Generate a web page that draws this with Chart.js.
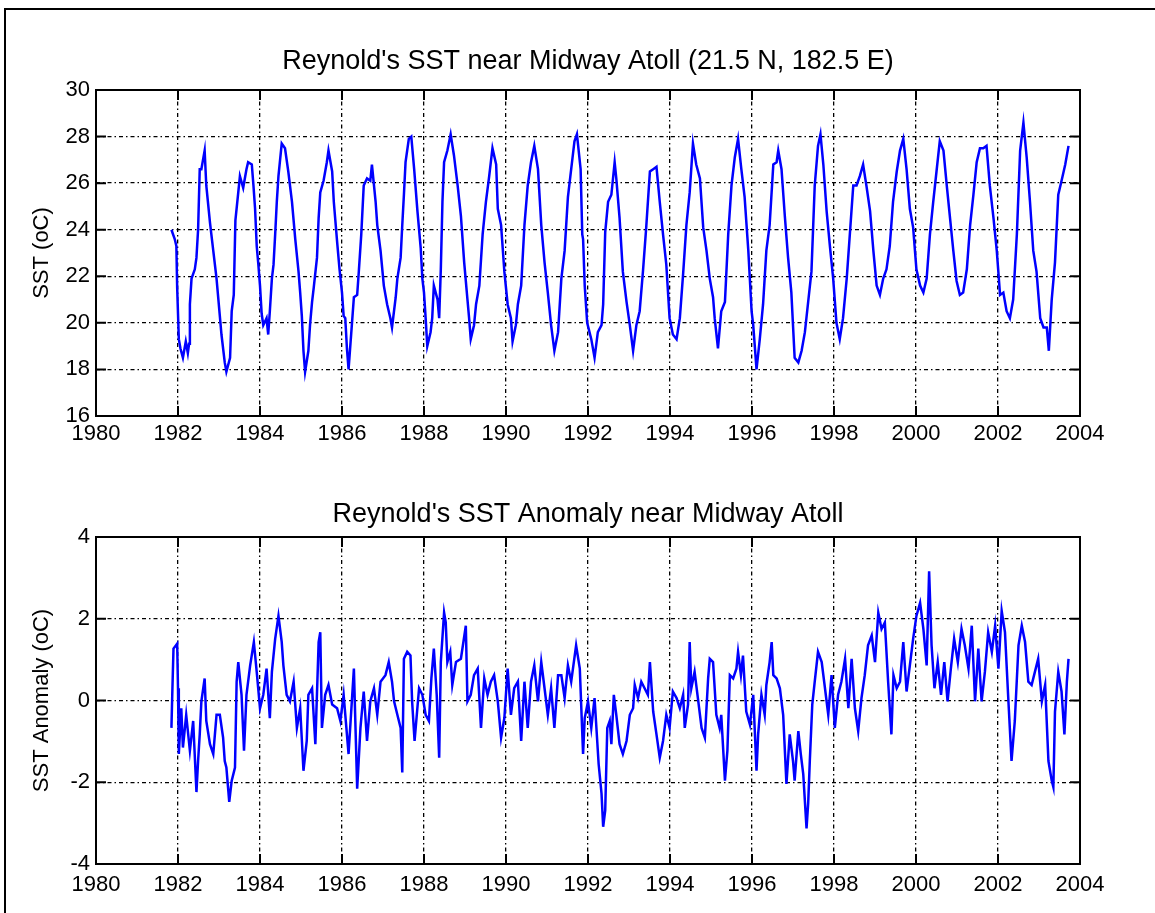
<!DOCTYPE html>
<html><head><meta charset="utf-8">
<script src="https://cdn.jsdelivr.net/npm/chart.js@4.4.1/dist/chart.umd.min.js"></script>
<style>
html,body{margin:0;padding:0;background:#fff;}
body{width:1155px;height:913px;position:relative;overflow:hidden;}
#frame{position:absolute;left:4px;top:8px;width:1170px;height:930px;border-left:2px solid #000;border-top:2px solid #000;}
#c1{position:absolute;left:0;top:0;}
#c2{position:absolute;left:0;top:460px;}
</style></head>
<body>
<div id="frame"></div>
<canvas id="c1" width="1155" height="460"></canvas>
<canvas id="c2" width="1155" height="453"></canvas>
<script>
// ---- Weekly Reynolds SST near Midway Atoll ----
const sstTime = [
1981.84,1981.92,1981.96,1981.98,
1982.02,1982.06,1982.12,1982.19,1982.24,1982.27,1982.29,1982.33,1982.41,1982.45,1982.49,1982.53,1982.57,1982.65,1982.69,1982.78,1982.86,1982.94,
1983.02,1983.06,1983.14,1983.18,1983.27,1983.31,1983.36,1983.40,1983.47,1983.51,1983.59,1983.67,1983.71,1983.80,1983.84,1983.88,1983.92,1983.96,
1984.00,1984.04,1984.08,1984.16,1984.20,1984.24,1984.29,1984.33,1984.37,1984.41,1984.45,1984.53,1984.61,1984.69,1984.78,1984.86,1984.94,1984.98,
1985.02,1985.06,1985.10,1985.18,1985.22,1985.27,1985.31,1985.39,1985.43,1985.47,1985.55,1985.63,1985.67,1985.76,1985.80,1985.88,1985.94,
1986.00,1986.04,1986.08,1986.12,1986.16,1986.24,1986.29,1986.37,1986.41,1986.47,1986.53,1986.61,1986.69,1986.73,1986.78,1986.82,1986.86,1986.94,
1987.02,1987.10,1987.18,1987.22,1987.31,1987.35,1987.43,1987.47,1987.51,1987.55,1987.63,1987.69,1987.76,1987.84,1987.92,1987.96,
1988.00,1988.04,1988.08,1988.16,1988.20,1988.24,1988.33,1988.37,1988.41,1988.45,1988.49,1988.57,1988.65,1988.73,1988.82,1988.90,1988.98,
1989.06,1989.10,1989.14,1989.22,1989.27,1989.35,1989.43,1989.51,1989.59,1989.67,1989.76,1989.80,1989.88,1989.96,
1990.04,1990.12,1990.16,1990.24,1990.29,1990.37,1990.45,1990.53,1990.61,1990.69,1990.78,1990.86,1990.94,
1991.02,1991.10,1991.18,1991.27,1991.35,1991.43,1991.51,1991.59,1991.67,1991.73,1991.82,1991.86,1991.88,1991.92,1991.98,
1992.08,1992.16,1992.24,1992.33,1992.37,1992.42,1992.49,1992.57,1992.65,1992.69,1992.77,1992.85,1992.94,
1993.02,1993.10,1993.18,1993.26,1993.34,1993.42,1993.51,1993.59,1993.67,1993.75,1993.83,1993.91,1993.99,
1994.07,1994.16,1994.24,1994.32,1994.40,1994.48,1994.56,1994.64,1994.73,1994.81,1994.89,1994.97,
1995.05,1995.09,1995.17,1995.25,1995.34,1995.42,1995.50,1995.58,1995.66,1995.74,1995.82,1995.91,1995.99,
1996.03,1996.11,1996.19,1996.27,1996.35,1996.43,1996.52,1996.60,1996.64,1996.72,1996.80,1996.88,1996.96,
1997.04,1997.13,1997.21,1997.29,1997.37,1997.45,1997.53,1997.61,1997.67,1997.74,1997.82,1997.90,1997.98,
1998.06,1998.14,1998.22,1998.31,1998.39,1998.47,1998.55,1998.63,1998.71,1998.79,1998.88,1998.96,
1999.04,1999.12,1999.20,1999.28,1999.36,1999.44,1999.53,1999.61,1999.69,1999.77,1999.85,1999.93,
2000.01,2000.10,2000.18,2000.26,2000.34,2000.42,2000.50,2000.58,2000.67,2000.75,2000.83,2000.91,2000.99,
2001.07,2001.15,2001.24,2001.32,2001.40,2001.48,2001.56,2001.64,2001.72,2001.80,2001.89,2001.97,
2002.05,2002.13,2002.21,2002.29,2002.37,2002.46,2002.54,2002.62,2002.70,2002.78,2002.86,2002.94,
2003.03,2003.11,2003.19,2003.24,2003.31,2003.39,2003.47,2003.55,2003.64,2003.72
];
const sstValue = [
24.0,23.6,23.3,21.5,
19.3,18.9,18.5,19.2,18.7,19.1,20.8,21.9,22.3,22.8,24.0,26.6,26.6,27.4,25.9,24.3,23.1,21.9,
20.3,19.5,18.3,17.9,18.5,20.5,21.2,24.4,25.6,26.3,25.8,26.6,26.9,26.8,25.9,24.9,23.3,22.5,
21.6,20.4,19.9,20.2,19.5,20.5,21.9,22.5,23.8,25.2,26.3,27.7,27.5,26.5,25.2,23.6,22.2,21.3,
20.3,18.8,17.9,18.8,19.9,20.9,21.5,22.8,24.5,25.6,26.1,26.9,27.4,26.5,25.2,23.5,22.3,
21.3,20.3,20.2,18.9,18.0,19.9,21.1,21.2,22.2,23.8,25.9,26.2,26.1,26.8,25.9,25.2,24.2,23.1,
21.6,20.8,20.2,19.8,21.1,21.9,22.8,24.2,25.5,26.9,27.9,28.0,26.6,24.8,23.2,21.9,
21.3,20.2,19.0,19.6,20.2,21.6,21.0,20.2,22.3,25.2,26.9,27.4,28.1,27.2,25.9,24.6,22.6,
21.0,20.2,19.3,19.9,20.8,21.6,23.8,25.2,26.3,27.5,26.8,24.9,24.2,22.2,
20.8,20.2,19.2,19.9,20.8,21.6,24.2,25.9,26.9,27.6,26.6,24.2,22.6,
21.3,19.9,18.8,19.6,21.9,23.1,25.4,26.6,27.8,28.1,26.6,23.8,23.6,21.6,20.0,
19.3,18.5,19.6,19.9,20.8,23.9,25.2,25.5,26.9,26.2,24.5,22.2,20.9,
19.9,18.8,19.9,20.5,22.2,24.1,26.5,26.6,26.7,25.2,23.8,22.5,20.2,
19.5,19.3,20.2,22.1,24.2,25.6,27.7,26.8,26.2,24.1,23.1,21.9,
21.1,20.2,18.9,20.5,20.9,23.8,25.9,27.1,27.9,26.6,25.4,23.1,20.5,
19.9,18.0,19.3,20.8,23.1,24.2,26.8,26.9,27.4,26.6,24.6,22.8,21.3,
18.5,18.3,18.8,19.6,20.9,22.2,25.9,27.6,28.1,26.8,24.8,23.3,21.9,
20.0,19.3,20.2,21.9,23.9,25.9,25.9,26.3,26.8,25.9,24.8,23.1,
21.6,21.2,21.9,22.3,23.3,25.2,26.5,27.4,27.9,26.6,24.9,24.1,
22.3,21.6,21.3,21.9,23.8,25.2,26.5,27.8,27.4,25.9,24.5,23.1,21.8,
21.2,21.3,22.3,24.2,25.5,26.9,27.5,27.5,27.6,25.9,24.5,23.1,
21.2,21.3,20.5,20.2,21.0,23.8,27.4,28.6,27.1,25.2,23.1,22.2,
20.2,19.8,19.8,18.8,21.0,22.6,25.5,26.1,26.8,27.6
];

// ---- SST anomaly near Midway Atoll ----
const anomTime = [
1981.84,1981.86,1981.89,1981.98,
1982.00,1982.02,1982.08,1982.12,1982.20,1982.29,1982.37,1982.45,1982.49,1982.53,1982.57,1982.65,1982.69,1982.78,1982.86,1982.94,
1983.02,1983.10,1983.14,1983.18,1983.25,1983.31,1983.39,1983.43,1983.47,1983.55,1983.61,1983.67,1983.76,1983.85,1983.92,
1984.00,1984.08,1984.16,1984.24,1984.29,1984.37,1984.45,1984.53,1984.57,1984.65,1984.73,1984.82,1984.90,1984.98,
1985.06,1985.14,1985.18,1985.27,1985.35,1985.43,1985.47,1985.51,1985.59,1985.67,1985.76,1985.88,1985.96,
1986.04,1986.16,1986.29,1986.37,1986.45,1986.53,1986.61,1986.69,1986.78,1986.86,1986.94,
1987.06,1987.14,1987.22,1987.27,1987.35,1987.43,1987.47,1987.51,1987.59,1987.67,1987.71,1987.77,1987.88,1987.96,
1988.04,1988.12,1988.18,1988.24,1988.31,1988.37,1988.41,1988.49,1988.53,1988.57,1988.64,1988.69,1988.78,1988.90,
1989.02,1989.06,1989.14,1989.22,1989.31,1989.39,1989.47,1989.55,1989.63,1989.71,1989.80,1989.88,1989.96,
1990.04,1990.12,1990.20,1990.29,1990.37,1990.45,1990.53,1990.61,1990.69,1990.78,1990.86,1990.94,
1991.02,1991.10,1991.18,1991.27,1991.35,1991.43,1991.51,1991.59,1991.71,1991.80,1991.88,1991.92,
1992.00,1992.08,1992.16,1992.26,1992.33,1992.37,1992.42,1992.47,1992.53,1992.57,1992.63,1992.69,1992.77,1992.85,1992.94,
1993.02,1993.10,1993.14,1993.22,1993.30,1993.38,1993.46,1993.51,1993.59,1993.67,1993.75,1993.83,1993.91,1993.99,
1994.07,1994.16,1994.24,1994.32,1994.36,1994.44,1994.48,1994.52,1994.60,1994.69,1994.77,1994.85,1994.93,1994.97,
1995.05,1995.13,1995.21,1995.25,1995.34,1995.40,1995.46,1995.54,1995.62,1995.66,1995.73,1995.78,1995.86,1995.95,
1996.03,1996.11,1996.15,1996.23,1996.31,1996.35,1996.43,1996.48,1996.52,1996.60,1996.68,1996.76,1996.84,1996.92,
1997.00,1997.04,1997.13,1997.19,1997.25,1997.33,1997.37,1997.41,1997.47,1997.53,1997.61,1997.70,1997.78,1997.86,1997.94,
1998.02,1998.10,1998.18,1998.27,1998.35,1998.43,1998.51,1998.59,1998.67,1998.75,1998.83,1998.92,
1999.00,1999.08,1999.16,1999.24,1999.32,1999.40,1999.45,1999.53,1999.61,1999.69,1999.77,1999.85,1999.93,
2000.01,2000.10,2000.18,2000.26,2000.32,2000.38,2000.45,2000.53,2000.61,2000.69,2000.77,2000.85,2000.93,
2001.02,2001.11,2001.19,2001.28,2001.36,2001.44,2001.52,2001.60,2001.68,2001.76,2001.85,2001.93,
2002.01,2002.09,2002.17,2002.25,2002.33,2002.41,2002.50,2002.58,2002.66,2002.74,2002.82,2002.90,2002.98,
2003.07,2003.15,2003.23,2003.31,2003.35,2003.39,2003.47,2003.55,2003.62,2003.68,2003.72
];
const anomValue = [
-0.67,0.14,1.27,1.39,
0.30,-1.31,-0.19,-1.15,-0.35,-1.23,-0.50,-2.24,-1.48,-0.83,-0.02,0.54,-0.50,-1.07,-1.31,-0.35,
-0.35,-0.91,-1.48,-1.64,-2.48,-1.96,-1.64,0.46,0.94,0.14,-1.23,0.14,0.86,1.43,0.70,
-0.19,0.14,0.78,-0.43,0.70,1.51,2.07,1.43,0.86,0.14,-0.02,0.46,-0.67,-0.19,
-1.72,-0.99,0.14,0.30,-1.07,1.43,1.67,-0.67,0.14,0.38,-0.10,-0.19,-0.50,
0.14,-1.31,0.78,-2.16,-0.67,0.22,-0.99,-0.02,0.30,-0.35,0.46,
0.62,0.94,0.46,-0.02,-0.35,-0.67,-1.76,1.02,1.19,1.10,-0.02,-0.99,0.30,0.14,
-0.35,-0.50,0.54,1.27,0.14,-1.40,0.94,2.15,1.91,0.94,1.19,0.38,0.94,1.02,
1.83,-0.02,0.14,0.62,0.78,-0.67,0.54,0.14,0.46,0.62,-0.02,-0.91,-0.43,
0.78,-0.35,0.30,0.46,-0.99,0.46,-0.67,0.46,0.86,-0.02,0.94,0.30,
-0.35,0.30,-0.67,0.62,0.62,0.06,0.86,0.46,1.35,0.78,-1.31,-0.43,
-0.02,-0.67,0.06,-1.56,-2.28,-3.09,-2.69,-0.67,-0.50,-1.07,0.14,-0.35,-1.07,-1.31,-0.99,
-0.35,-0.19,0.38,0.06,0.46,0.30,0.14,0.94,-0.27,-0.83,-1.40,-0.99,-0.35,-0.67,
0.22,0.06,-0.19,0.14,-0.67,-0.10,1.43,0.30,0.70,-0.02,-0.67,-0.91,0.54,1.02,
0.94,-0.35,-0.67,-0.35,-1.96,-1.23,0.62,0.54,0.78,1.19,0.62,1.10,-0.27,-0.59,
0.14,-1.72,-0.83,0.14,-0.35,0.38,0.94,1.43,0.62,0.54,0.30,-0.35,-2.04,-0.83,
-1.48,-1.96,-0.75,-1.31,-1.80,-3.13,-2.52,-1.48,-0.10,0.46,1.19,0.94,0.30,-0.35,0.62,
-0.67,0.14,0.46,1.02,-0.19,1.02,-0.19,-0.75,0.06,0.62,1.35,1.59,
0.94,2.15,1.75,1.91,0.46,-0.83,0.62,0.30,0.46,1.43,0.22,0.86,1.51,
2.07,2.39,1.75,0.86,3.16,1.35,0.30,0.94,0.14,0.94,-0.02,0.78,1.51,
0.94,1.75,1.35,0.78,1.83,-0.02,1.27,-0.02,0.70,1.67,1.19,1.83,
0.78,2.19,1.67,0.06,-1.48,-0.50,1.35,1.83,1.43,0.46,0.38,0.70,1.02,
-0.02,0.38,-1.48,-1.96,-2.12,-0.27,0.70,0.22,-0.83,0.46,1.02
];

const xTicks = [1980,1982,1984,1986,1988,1990,1992,1994,1996,1998,2000,2002,2004];
const sstTicks = [16,18,20,22,24,26,28,30];
const anomTicks = [-4,-2,0,2,4];

const FONT_TICK = {family:"'Liberation Sans',Arial,sans-serif", size:22, weight:'normal'};
const FONT_TITLE = {family:"'Liberation Sans',Arial,sans-serif", size:27, weight:'normal'};
const FONT_AXIS = {family:"'Liberation Sans',Arial,sans-serif", size:22, weight:'normal'};

const frameTicks = {
  id:'frameTicks',
  afterDatasetsDraw(chart){
    const {ctx, chartArea:a, scales:{x, y}} = chart;
    const L = 10;
    ctx.save();
    ctx.strokeStyle = '#000';
    ctx.lineWidth = 2;
    ctx.setLineDash([]);
    ctx.strokeRect(a.left, a.top, a.right - a.left, a.bottom - a.top);
    ctx.beginPath();
    x.ticks.forEach(t => {
      const p = x.getPixelForValue(t.value);
      ctx.moveTo(p, a.bottom); ctx.lineTo(p, a.bottom - L);
      ctx.moveTo(p, a.top); ctx.lineTo(p, a.top + L);
    });
    y.ticks.forEach(t => {
      const p = y.getPixelForValue(t.value);
      ctx.moveTo(a.left, p); ctx.lineTo(a.left + L, p);
      ctx.moveTo(a.right, p); ctx.lineTo(a.right - L, p);
    });
    ctx.stroke();
    ctx.restore();
  }
};

function makeChart(id, time, vals, yTicks, titleText, titlePad, yTitle, xAxisH, xPad) {
  const n = Math.min(time.length, vals.length);
  const pts = [];
  for (let i = 0; i < n; i++) pts.push({x: time[i], y: vals[i]});
  return new Chart(document.getElementById(id), {
    type: 'line',
    data: {datasets: [{data: pts, borderColor: '#0000ff', borderWidth: 2.5, pointRadius: 0, fill: false, tension: 0}]},
    options: {
      responsive: false, animation: false, devicePixelRatio: 1,
      layout: {padding: {left: 0, right: 75, top: 0, bottom: 0}},
      plugins: {
        legend: {display: false}, tooltip: {enabled: false},
        title: {display: true, fullSize: false, text: titleText, color: '#000', font: FONT_TITLE, padding: titlePad}
      },
      scales: {
        x: {
          type: 'linear', min: xTicks[0], max: xTicks[xTicks.length - 1],
          afterBuildTicks: s => { s.ticks = xTicks.map(v => ({value: v})); },
          afterFit: s => { s.height = xAxisH; },
          ticks: {color: '#000', font: FONT_TICK, padding: xPad, maxRotation: 0, autoSkip: false, callback: v => String(v)},
          grid: {color: '#000', lineWidth: 1.3, drawTicks: false},
          border: {display: false, dash: [4, 3, 1.5, 3]}
        },
        y: {
          type: 'linear', min: yTicks[0], max: yTicks[yTicks.length - 1],
          afterBuildTicks: s => { s.ticks = yTicks.map(v => ({value: v})); },
          afterFit: s => { s.width = 96; },
          ticks: {color: '#000', font: FONT_TICK, padding: 6, autoSkip: false, callback: v => String(v)},
          grid: {color: '#000', lineWidth: 1.3, drawTicks: false},
          border: {display: false, dash: [4, 3, 1.5, 3]},
          title: {display: true, text: yTitle, color: '#000', font: FONT_AXIS, padding: {top: 28.8, bottom: 0}}
        }
      }
    },
    plugins: [frameTicks]
  });
}

makeChart('c1', sstTime, sstValue, sstTicks,
  "Reynold's SST near Midway Atoll (21.5 N, 182.5 E)", {top: 45.8, bottom: 11.8},
  'SST (oC)', 44, 5);
makeChart('c2', anomTime, anomValue, anomTicks,
  "Reynold's SST Anomaly near Midway Atoll", {top: 38.8, bottom: 5.8},
  'SST Anomaly (oC)', 49, 8);
</script>
</body></html>
